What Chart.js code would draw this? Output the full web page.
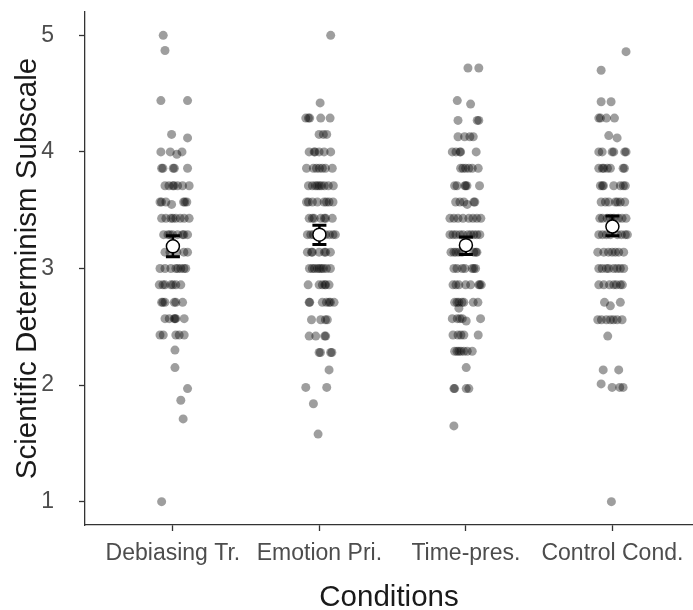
<!DOCTYPE html>
<html>
<head>
<meta charset="utf-8">
<script src="https://cdn.jsdelivr.net/npm/chart.js@4.4.1/dist/chart.umd.min.js"></script>
<style>
  html, body { margin: 0; padding: 0; background: #fff; }
  #wrap { width: 693px; height: 610px; }
</style>
</head>
<body>
<div id="wrap"><canvas id="chart"></canvas></div>
<script>
// categories and tick labels
const conditions = ['Debiasing Tr.', 'Emotion Pri.', 'Time-pres.', 'Control Cond.'];
const yTicks = [1, 2, 3, 4, 5];

// raw scores per condition: [score, [horizontal jitter of each point, in category units]]
const debiasingRows = [
    [5.00, [-0.066]],
    [4.87, [-0.054]],
    [4.44, [-0.082, 0.100]],
    [4.15, [-0.009]],
    [4.12, [0.100]],
    [4.00, [-0.082, -0.018, 0.062]],
    [3.98, [0.027]],
    [3.86, [-0.077, -0.068, 0.002, 0.010, 0.100]],
    [3.71, [-0.054, -0.027, 0.000, 0.007, 0.032, 0.066, 0.111]],
    [3.57, [-0.088, -0.078, -0.048, 0.073, 0.082, 0.095]],
    [3.55, [-0.009]],
    [3.43, [-0.077, -0.048, -0.014, 0.000, 0.020, 0.050, 0.077, 0.111]],
    [3.29, [-0.063, -0.034, -0.020, -0.002, 0.032, 0.066, 0.075, 0.100]],
    [3.14, [-0.054, -0.020, 0.027, 0.075, 0.100]],
    [3.00, [-0.088, -0.054, -0.014, 0.020, 0.034, 0.054, 0.075, 0.088]],
    [2.86, [-0.093, -0.068, -0.054, -0.014, 0.000, 0.020, 0.054]],
    [2.71, [-0.077, -0.068, -0.054, 0.009, 0.020, 0.066]],
    [2.57, [-0.054, -0.025, 0.009, 0.014, 0.020, 0.077]],
    [2.43, [-0.088, -0.066, 0.020, 0.043, 0.077]],
    [2.30, [0.014]],
    [2.15, [0.014]],
    [1.97, [0.100]],
    [1.87, [0.054]],
    [1.71, [0.070]],
    [1.00, [-0.077]]
];
const emotionRows = [
    [5.00, [0.077]],
    [4.42, [0.005]],
    [4.29, [-0.093, -0.075, -0.066, 0.009, 0.073]],
    [4.15, [-0.002, 0.027, 0.050]],
    [4.00, [-0.070, -0.036, -0.030, -0.002, 0.032, 0.077]],
    [3.86, [-0.088, -0.041, -0.020, 0.000, 0.020, 0.041, 0.088]],
    [3.71, [-0.075, -0.048, -0.027, -0.014, 0.000, 0.014, 0.034, 0.061, 0.095]],
    [3.57, [-0.088, -0.075, -0.048, -0.014, 0.032, 0.048, 0.066, 0.093]],
    [3.43, [-0.070, -0.048, -0.036, 0.009, 0.034, 0.043, 0.088]],
    [3.29, [-0.082, -0.059, -0.041, 0.041, 0.068, 0.093, 0.109]],
    [3.14, [-0.082, -0.054, -0.048, -0.002, 0.034, 0.043, 0.075]],
    [3.00, [-0.068, -0.048, -0.034, -0.014, 0.000, 0.014, 0.027, 0.048, 0.075]],
    [2.86, [-0.077, -0.002, 0.020, 0.037, 0.043, 0.066]],
    [2.71, [-0.070, -0.066, 0.020, 0.048, 0.066, 0.075, 0.100]],
    [2.56, [-0.054, 0.009, 0.041, 0.054]],
    [2.42, [-0.070, -0.025, 0.036, 0.043]],
    [2.28, [-0.002, 0.007, 0.077, 0.085]],
    [2.13, [0.066]],
    [1.98, [-0.093, 0.050]],
    [1.84, [-0.041]],
    [1.58, [-0.009]]
];
const timeRows = [
    [4.72, [0.014, 0.088]],
    [4.44, [-0.059]],
    [4.41, [0.032]],
    [4.27, [-0.054, 0.077, 0.088]],
    [4.13, [-0.054, -0.009, 0.027, 0.050]],
    [4.00, [-0.093, -0.068, -0.041, -0.036, 0.070]],
    [3.86, [-0.036, -0.020, -0.002, 0.020, 0.043, 0.084]],
    [3.71, [-0.077, -0.061, -0.007, -0.002, 0.007, 0.093]],
    [3.57, [-0.070, -0.041, -0.014, 0.054, 0.061]],
    [3.55, [0.009]],
    [3.43, [-0.109, -0.082, -0.054, -0.020, 0.020, 0.048, 0.075, 0.102]],
    [3.29, [-0.109, -0.088, -0.068, -0.041, -0.020, 0.014, 0.034, 0.054, 0.075, 0.095]],
    [3.14, [-0.102, -0.082, -0.068, -0.048, -0.027, 0.054, 0.068, 0.075]],
    [3.00, [-0.082, -0.061, -0.025, -0.007, 0.043, 0.054, 0.066]],
    [2.86, [-0.088, -0.068, -0.048, -0.002, 0.032, 0.088, 0.095, 0.105]],
    [2.71, [-0.077, -0.061, -0.048, -0.027, -0.014, 0.050, 0.082]],
    [2.66, [-0.048]],
    [2.57, [-0.093, -0.059, -0.041, -0.025, 0.100]],
    [2.55, [0.002]],
    [2.43, [-0.088, -0.054, -0.034, -0.014, 0.084]],
    [2.29, [-0.077, -0.061, -0.048, -0.034, -0.014, 0.009, 0.043]],
    [2.15, [0.002]],
    [1.97, [-0.082, -0.077, 0.002, 0.020]],
    [1.65, [-0.082]]
];
const controlRows = [
    [4.86, [0.093]],
    [4.70, [-0.077]],
    [4.43, [-0.077, -0.009]],
    [4.29, [-0.093, -0.082, -0.041, 0.014]],
    [4.14, [-0.025]],
    [4.12, [0.032]],
    [4.00, [-0.093, -0.070, -0.002, 0.009, 0.084, 0.093]],
    [3.86, [-0.093, -0.068, -0.059, -0.034, -0.014, 0.073, 0.082]],
    [3.71, [-0.082, -0.068, -0.061, 0.009, 0.054, 0.075, 0.088]],
    [3.57, [-0.077, -0.048, -0.025, 0.020, 0.034, 0.054, 0.084]],
    [3.43, [-0.086, -0.068, -0.036, -0.014, 0.009, 0.041, 0.066, 0.093]],
    [3.29, [-0.093, -0.068, -0.041, -0.014, 0.034, 0.061, 0.088, 0.102]],
    [3.14, [-0.100, -0.059, -0.027, -0.002, 0.020, 0.043, 0.077]],
    [3.00, [-0.093, -0.070, -0.041, -0.025, 0.009, 0.032, 0.054, 0.077]],
    [2.86, [-0.093, -0.059, -0.020, 0.009, 0.027, 0.054, 0.068]],
    [2.71, [-0.054, 0.054]],
    [2.68, [-0.014]],
    [2.56, [-0.100, -0.075, -0.041, -0.014, 0.007, 0.032, 0.066]],
    [2.42, [-0.032]],
    [2.13, [-0.063, 0.043]],
    [2.01, [-0.077]],
    [1.98, [-0.002, 0.050, 0.073]],
    [1.00, [-0.007]]
];

// condition means with their error bar ends
const means = [3.19, 3.29, 3.20, 3.36];
const ciLow = [3.10, 3.205, 3.12, 3.28];
const ciHigh = [3.28, 3.37, 3.27, 3.45];

const FONT = "'Liberation Sans', Arial, sans-serif";

const allRows = [debiasingRows, emotionRows, timeRows, controlRows];
const rawPoints = [];
allRows.forEach((rows, i) => {
    rows.forEach(([score, jitter]) => {
        jitter.forEach(dx => rawPoints.push({ x: i + 1 + dx, y: score }));
    });
});
const meanPoints = means.map((m, i) => ({ x: i + 1, y: m }));

// error bars drawn under the white mean dots
const errorBars = {
    id: 'errorBars',
    beforeDatasetDraw(chart, args) {
        if (args.index !== 1) return;
        const { ctx, scales: { x, y } } = chart;
        ctx.save();
        ctx.strokeStyle = '#000';
        means.forEach((m, i) => {
            const px = x.getPixelForValue(i + 1);
            const top = y.getPixelForValue(ciHigh[i]);
            const bot = y.getPixelForValue(ciLow[i]);
            ctx.lineWidth = 2.5;
            ctx.beginPath();
            ctx.moveTo(px, top);
            ctx.lineTo(px, bot);
            ctx.stroke();
            ctx.lineWidth = 3;
            ctx.beginPath();
            ctx.moveTo(px - 7, top); ctx.lineTo(px + 7, top);
            ctx.moveTo(px - 7, bot); ctx.lineTo(px + 7, bot);
            ctx.stroke();
        });
        ctx.restore();
    }
};

new Chart(document.getElementById('chart'), {
    type: 'scatter',
    data: {
        datasets: [
            {
                data: rawPoints,
                backgroundColor: 'rgba(0,0,0,0.38)',
                borderWidth: 0,
                pointRadius: 4.5,
                order: 2
            },
            {
                data: meanPoints,
                backgroundColor: '#fff',
                borderColor: '#000',
                borderWidth: 1.5,
                pointRadius: 6.5,
                order: 1
            }
        ]
    },
    options: {
        responsive: true,
        maintainAspectRatio: false,
        animation: false,
        events: [],
        layout: { autoPadding: false, padding: { top: 12, right: 0, bottom: 0, left: 0 } },
        plugins: { legend: { display: false }, tooltip: { enabled: false } },
        scales: {
            x: {
                type: 'linear',
                min: 0.4,
                max: 4.55,
                afterBuildTicks: axis => { axis.ticks = conditions.map((c, i) => ({ value: i + 1 })); },
                afterFit: axis => { axis.height = 85; axis.paddingLeft = 0; axis.paddingRight = 0; },
                ticks: {
                    color: '#4d4d4d',
                    font: { family: FONT, size: 23 },
                    padding: 9,
                    maxRotation: 0,
                    autoSkip: false,
                    callback: v => conditions[v - 1]
                },
                grid: { drawOnChartArea: false, drawTicks: true, tickLength: 6, tickColor: '#333', tickWidth: 1.3 },
                border: { display: true, color: '#333', width: 1.3 },
                title: {
                    display: true,
                    text: 'Conditions',
                    color: '#1a1a1a',
                    font: { family: FONT, size: 29.5, lineHeight: 0.8 },
                    padding: { top: 0, bottom: 0 }
                }
            },
            y: {
                min: 0.8,
                max: 5.2,
                afterBuildTicks: axis => { axis.ticks = yTicks.map(v => ({ value: v })); },
                afterFit: axis => { axis.width = 85; axis.paddingTop = 0; axis.paddingBottom = 0; },
                ticks: {
                    color: '#4d4d4d',
                    font: { family: FONT, size: 23 },
                    padding: 25
                },
                grid: { drawOnChartArea: false, drawTicks: true, tickLength: 6, tickColor: '#333', tickWidth: 1.3 },
                border: { display: true, color: '#333', width: 1.3 },
                title: {
                    display: true,
                    text: 'Scientific Determinism Subscale',
                    color: '#1a1a1a',
                    font: { family: FONT, size: 29.5, lineHeight: 1 },
                    padding: { top: 13, bottom: 0 }
                }
            }
        }
    },
    plugins: [errorBars]
});
</script>
</body>
</html>
